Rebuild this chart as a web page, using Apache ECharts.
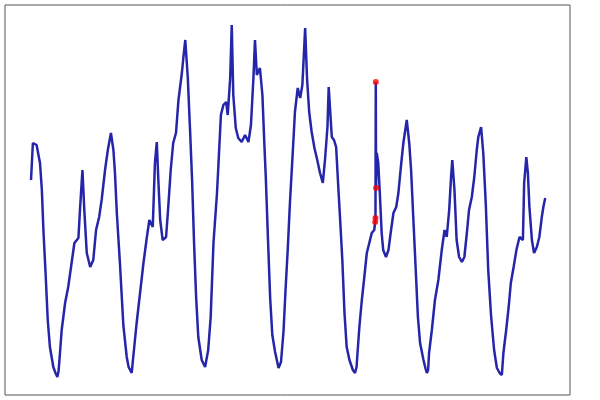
<!DOCTYPE html>
<html>
<head>
<meta charset="utf-8">
<script src="https://cdn.jsdelivr.net/npm/echarts@6/dist/echarts.min.js"></script>
<style>
  html, body { margin: 0; padding: 0; background: #fff; }
  #chart { width: 600px; height: 400px; }
</style>
</head>
<body>
<div id="chart"></div>
<script>
// readings, hours from start of the week
var hours = [
  0.0, 0.6, 1.8, 2.9, 3.5, 4.0, 4.7, 5.4, 6.1, 7.2, 7.9, 8.5, 8.9, 9.3, 9.9, 11.0, 12.0, 13.1, 14.0, 15.3, 15.8, 16.6,
  17.2, 18.0, 19.1, 20.1, 21.0, 22.0, 22.8, 23.9, 24.8, 25.8, 26.6, 27.1, 27.7, 28.7, 29.8, 30.9, 31.5, 32.5, 33.0, 34.1, 35.2,
  36.3, 37.4, 38.2, 39.3, 40.0, 40.6, 41.1, 41.7, 42.5, 43.6, 44.3, 45.1, 45.9, 46.8, 47.6, 48.7, 49.2, 49.8, 50.6, 51.3,
  52.0, 52.6, 53.3, 54.0, 55.1, 56.2, 57.2, 58.0, 58.9, 60.0, 60.5, 61.3, 62.1, 63.0, 63.5, 64.3, 64.8, 65.3, 66.1, 66.9,
  68.0, 69.1, 70.2, 71.0, 71.8, 72.3, 72.9, 73.9, 74.7, 75.3, 75.8, 76.6, 77.2, 77.9, 78.8, 79.9, 80.7, 81.5, 82.2, 82.9,
  83.6, 84.4, 85.2, 86.1, 86.9, 87.6, 88.5, 89.1, 89.8, 90.6, 91.5, 92.4, 93.3, 94.2, 94.9, 95.7, 96.1, 96.5, 97.1, 97.8,
  98.5, 99.2, 99.8, 100.5, 101.2, 101.9, 102.8, 103.9, 104.6, 105.1, 105.4, 106.0, 106.8, 107.5, 108.4, 109.2, 110.0, 110.8,
  111.6, 112.1, 112.6, 113.2, 113.7, 114.6, 115.4, 116.1, 117.0, 117.9, 118.6, 119.4, 120.2, 121.3, 121.6, 122.1, 122.7,
  123.4, 124.2, 124.9, 125.6, 126.7, 127.4, 127.8, 128.2, 128.5, 129.4, 130.4, 131.5, 132.6, 133.5, 134.2, 135.0, 135.6, 136.0, 136.7,
  137.4, 138.2, 139.1, 139.9, 140.7, 141.4, 142.3, 143.1, 143.9, 144.4, 145.3, 146.0, 146.8, 147.6, 148.5, 149.5, 150.4,
  151.3, 152.0, 152.5, 153.4, 154.2, 154.9, 155.8, 156.7, 157.7, 158.8, 159.2, 159.9, 160.4, 160.9, 161.7, 162.4, 163.3, 164.1,
  164.9, 165.4, 166.0
];
var values = [
  215, 252, 250, 232, 205, 165, 122, 75, 48, 28, 22, 18, 24, 40, 65, 92, 108, 132, 152, 157, 185, 225,
  185, 142, 128, 135, 165, 178, 195, 225, 245, 262, 245, 222, 182, 132, 70, 38, 28, 22, 38, 72, 102,
  132, 158, 175, 168, 232, 253, 215, 175, 155, 158, 188, 225, 252, 262, 295, 322, 338, 355, 318, 268,
  215, 155, 98, 58, 35, 28, 45, 78, 152, 200, 230, 280, 290, 293, 280, 317, 370, 300, 267, 257,
  253, 260, 253, 270, 317, 355, 320, 327, 300, 253, 217, 147, 97, 60, 43, 27, 33, 63, 107, 147,
  193, 237, 283, 307, 297, 310, 367, 317, 283, 263, 247, 235, 222, 212, 235, 268, 308, 288, 258, 255,
  248, 208, 175, 135, 82, 48, 35, 25, 22, 28, 42, 68, 95, 115, 142, 152, 162, 165,
  242, 232, 202, 162, 145, 138, 145, 162, 182, 188, 202, 228, 252, 275, 277, 252, 225,
  178, 125, 78, 52, 35, 26, 22, 25, 42, 65, 95, 115, 145, 165, 158, 185, 218, 235, 205,
  155, 138, 133, 138, 162, 185, 198, 218, 245, 258, 268, 242, 192, 125, 80, 45, 27,
  22, 20, 42, 65, 88, 112, 128, 145, 158, 155, 212, 238, 222, 188, 155, 142, 148, 158,
  178, 188, 197
];
// flagged readings (drawn in red, also part of the line)
var anomalyHours = [111.1, 111.2, 111.3, 111.4];
var anomalyValues = [173, 177, 313, 207];

var lineData = [];
for (var i = 0; i < hours.length; i++) {
  lineData.push([hours[i], values[i]]);
}
var anomalyData = [];
for (var j = 0; j < anomalyHours.length; j++) {
  anomalyData.push([anomalyHours[j], anomalyValues[j]]);
  lineData.push([anomalyHours[j], anomalyValues[j]]);
}
lineData.sort(function (a, b) { return a[0] - b[0]; });

var chart = echarts.init(document.getElementById('chart'));
var option = {
  animation: false,
  backgroundColor: '#fff',
  grid: {
    left: 5,
    right: 30,
    top: 5,
    bottom: 5,
    show: true,
    borderColor: '#555',
    borderWidth: 1,
    backgroundColor: '#fff'
  },
  xAxis: {
    type: 'value',
    min: -8.4,
    max: 174,
    show: false
  },
  yAxis: {
    type: 'value',
    min: 0,
    max: 390,
    show: false
  },
  series: [
    {
      type: 'line',
      data: lineData,
      showSymbol: false,
      lineStyle: { color: '#2525aa', width: 2.5 },
      z: 2
    },
    {
      type: 'scatter',
      data: anomalyData,
      symbolSize: 6,
      itemStyle: { color: '#ff0000' },
      z: 3
    }
  ]
};
chart.setOption(option);
</script>
</body>
</html>
